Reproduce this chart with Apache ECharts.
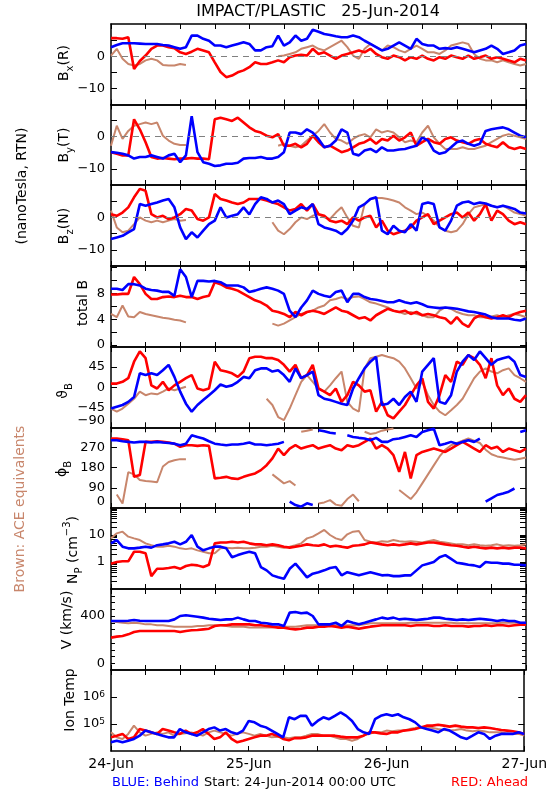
<!DOCTYPE html>
<html><head><meta charset="utf-8">
<script src="https://cdn.jsdelivr.net/npm/echarts@6/dist/echarts.min.js"></script>
<style>html,body{margin:0;padding:0;background:#fff}#c{width:550px;height:800px}</style>
</head><body><div id="c"></div><script>
// hours since 24-Jun-2014 00:00 UTC
const hours = [0,1,2,3,4,5,6,7,8,9,10,11,12,13,14,15,16,17,18,19,20,21,22,23,24,25,26,27,28,29,30,31,32,33,34,35,36,37,38,39,40,41,42,43,44,45,46,47,48,49,50,51,52,53,54,55,56,57,58,59,60,61,62,63,64,65,66,67,68,69,70,71,72];
const dayLabels = ['24-Jun','25-Jun','26-Jun','27-Jun'];
const dayHours = [0,24,48,72];
const _ = null;

const bxBlue = [2.8,3.5,4,4,4,3.9,3.8,3.8,3.8,3.5,3.3,2.8,2.3,2.8,6.4,6.4,5.4,4.8,3.3,3.3,2.8,3.3,3.8,4.3,3.8,1.8,1.8,2.8,3.1,6.4,3.3,4.3,6.4,4.8,5.4,8.2,7.6,6.9,6.6,6.2,5.9,5.9,6.4,5.9,4.8,3.8,2.8,1.8,2.3,3.3,4.3,3.3,2.3,5.4,3.8,3.3,3.3,2.3,2.5,2.3,2.8,2.3,1.8,1.2,1.8,2.3,3.3,2.3,0.7,1.2,1.8,3.3,3.8];
const bxRed = [5.6,5.6,5.4,5.9,-4,-1.5,0.2,2.3,3.3,3.3,2.8,2.5,1.2,0.7,1.4,2.3,1.8,1.2,-1.9,-4.9,-6.5,-6,-5,-4.4,-3.4,-1.9,-2.4,-2.4,-1.9,-1.3,-1.9,-0.3,0.2,0.4,0.2,2.3,0.7,1.2,0.2,-0.8,0.2,0.7,1.2,1.8,1.2,2.3,0.7,-0.3,-0.8,0.2,-0.3,-1.3,-0.3,-0.8,0.2,-0.8,-1.3,-0.3,-0.8,0.2,-0.3,-0.8,0.2,-0.8,-0.3,0.2,-0.8,-0.3,-0.8,-1.3,-1.9,-0.8,-1.3];
const bxBrown = [0.2,2.3,-0.8,-2.4,-2.9,-2.4,-1.3,-0.8,-1.3,-2.7,-2.9,-2.9,-2.4,-2.7,_,_,_,_,_,_,_,_,_,_,_,_,_,_,_,0,0.2,0.7,1.2,2.3,2.8,3.3,2.3,1.8,2.8,3.8,4.8,2.8,0.2,-0.8,2.3,3.8,2.8,1.8,3.3,2.8,1.8,1.2,2.3,3.3,2.3,1.2,1.2,0.7,1.8,3.3,3.8,4.3,3.8,0.7,-0.8,-1.3,-1.3,-1.9,-1.3,-1.9,-2.4,-2.9,-2.4];

const byBlue = [-4.8,-5,-5.3,-5.8,-6.8,-6.3,-6.3,-5.8,-6.3,-6.8,-5.8,-5.3,-7.9,-5.8,6.4,-4.8,-7.9,-8.4,-9.1,-8.9,-8.4,-8.4,-8.1,-6.8,-6.6,-6.6,-6.3,-6.8,-6.8,-6.3,-4.8,1.3,1.3,0.8,2.3,1.3,-0.7,-3.3,-2.8,-1.2,2.3,1.3,-5.3,-5.8,-4.3,-3.8,-4.8,-3.3,-4.3,-4.3,-4,-3.8,-3.3,-2.8,-0.2,-1.2,-4.3,-5.3,-4.8,-3.3,-1.7,-1.2,-2.2,-2.8,-2.2,1.8,2.3,2.6,2.9,2.3,1.3,0.3,-0.2];
const byRed = [-4.8,-5.3,-5.8,-5.8,5.4,2.3,-1.7,-6.3,-6.8,-6.6,-6.8,-7,-6.8,-6.8,-6.6,-6.8,-6.8,-7,5.4,5.9,5.4,4.9,5.9,4.4,2.9,1.8,1.3,0.3,-0.2,0.8,-2.8,-2.8,-2.2,-3.3,-2.2,0.3,-1.7,-3.3,-2.8,-3.8,-4.8,-4.3,-3.3,-2.2,-1.7,-0.7,-2.2,-0.7,-1.2,0.3,-1.2,-0.2,1.3,-2.8,-1.7,-0.7,-1.7,-2.2,-0.7,-0.2,-1.2,-1.7,-2.2,-1.2,-0.7,-2.2,-2.8,-3.3,-1.7,-3.3,-3.8,-3.3,-3.8];
const byBrown = [-2.8,3.4,-0.7,1.8,3.4,3.9,4.4,3.9,4.4,0.3,-1.2,-2.2,-2.6,-2.6,_,_,_,_,_,_,_,_,_,_,_,_,_,_,_,-2.8,-2.2,-2.8,-3.3,-2.8,-1.2,0.3,1.8,3.9,1.3,-0.7,-1.2,-2.2,-0.7,0.3,0.8,-0.2,2.3,1.3,1.8,1.3,-0.2,-1.7,-1.2,-1.7,1.3,3.4,-0.2,-2.2,-3.8,-3.8,-3.8,-3.3,-3.8,-3.8,-3.3,-2.8,-1.7,-0.7,0.3,0.8,0.3,-0.2,-0.7];

const bzBlue = [-6.7,-6.2,-5.7,-4.6,-3.6,4.1,3.6,4.1,4.6,5.2,5.7,3.1,-3.1,-6.7,-4.6,-6.2,-4.1,-2.1,-1,3.1,0,0.5,1,3.1,0.9,4.1,6.2,5.7,4.6,5.2,4.1,1,2.1,3.1,2.6,4.1,-2.1,-3.1,-3.6,-4.1,-5.2,-3.6,-1,3.1,4.1,5.7,6.2,-4.1,-5.2,-2.6,-4.1,-4.6,-2.1,-4.1,4.1,4.6,4.1,-3.1,-4.1,-1,3.6,4.6,4.9,4.1,4.6,4.3,3.6,3.1,3.6,3.1,2.6,1.5,1.2];
const bzRed = [1,0.5,1.5,3.1,6.2,8.8,8.2,1,0,0.5,-0.5,0,1,2.6,2.1,-0.5,-1,0,7.2,5.7,5.2,4.6,4.1,4.6,5.7,5.7,5.7,5.2,4.6,4.1,3.1,2.1,2.6,4.1,2.1,4.1,1,0.5,-1,-1.5,-1,-2.1,0,-1,0,0.5,-3.1,-1,-4.1,-5.2,-4.6,-4.1,-3.1,-1,0,1,-2.1,-1,0,1,1.5,0,1.5,-1,1,4.1,-1,2.1,1,-1,-2.1,-1.5,-2.1];
const bzBrown = [2.1,-3.1,-4.6,-4.1,-2.1,0,-1,-1.5,-1,-1.5,-1,-0.5,-1,-0.8,_,_,_,_,_,_,_,_,_,_,_,_,_,_,-1.5,-4.1,-5.2,-3.6,-1.5,0,-0.5,0.5,1,0,-0.5,1.5,3.1,0,-2.6,-3.1,4.1,5.7,6,6,5.7,5.2,4.6,3.1,2.1,1,1.5,0.5,-1,-3.1,-4.1,-4.6,-4.1,-2.1,1,3.1,3.6,4.1,3.6,3.1,3.6,2.6,1.5,1,0.5];

const btBlue = [8.7,8.7,8.5,9.4,9.4,9.2,8.7,8.5,8.4,8.2,8.2,7.6,11.7,10.5,7.4,9.9,9.9,9.8,9.9,9.7,9.2,9.2,9.2,8.9,8.2,8.4,8.7,8.9,8.7,8.4,7.9,5.3,4.3,5.8,6.9,8.4,7.9,7.6,7.4,8.2,8.4,6.6,7.9,7.9,7.4,7.1,7,6.8,6.6,6.6,6.9,6.6,6.4,6.6,6.3,5.9,5.8,5.7,5.8,5.7,5.6,5.4,5.2,5.1,4.9,4.7,4.3,4.1,4.1,4.1,3.9,3.8,4.1];
const btRed = [7.8,7.8,7.9,7.9,10.5,9.4,7.9,7.1,7.1,7.4,7.5,7.4,7.6,7.4,7.4,7.1,7.4,7.6,9.7,9.4,8.9,8.7,8.4,7.9,7.4,6.9,6.6,6.1,5.3,5.1,4.8,4.3,5.1,4.6,5.1,5.3,5.1,4.8,5.3,5.8,5.3,5.1,4.6,4.1,4.3,3.8,4.6,5.1,5.6,5.3,5.1,5.3,4.8,5.1,4.6,4.8,4.6,4.3,4.1,3.3,4.3,3.3,2.8,4.1,4.6,4.3,4.1,4.3,4.6,4.3,4.8,5.1,5.3];
const btBrown = [4.8,4.3,6.1,4.4,4.3,5.1,4.8,4.6,4.4,4.2,4.1,3.9,3.8,3.5,_,_,_,_,_,_,_,_,_,_,_,_,_,_,3.3,3.0,3.3,3.8,4.3,4.8,5.1,5.3,5.8,6.1,6.9,7.1,7.4,7.1,7.4,7.5,7.1,6.6,6.4,6.1,5.8,5.3,5.1,4.8,5.1,4.8,4.6,4.3,4.3,5.3,5.8,5.6,5.1,4.8,4.6,4.6,4.3,4.3,4.4,4.6,4.3,4.6,4.8,4.6,4.3];

const thBlue = [-48,-44,-40,-33,-22,31,27,31,27,38,50,23,-10,-37,-55,-40,-29,-18,-7,6,1,4,12,23,20,38,42,42,35,38,27,12,42,20,27,35,-18,-26,-29,-33,-37,-40,-3,20,42,57,68,-40,-37,-26,-40,-22,-10,-33,35,50,65,-33,-37,-18,35,57,72,61,80,65,50,61,65,68,57,27,23];
const thRed = [8,8,12,20,57,80,65,4,-3,12,-7,4,12,20,27,-3,-7,-3,57,38,35,31,23,35,65,68,68,65,65,61,50,35,50,20,27,50,-3,-10,-18,-3,-33,-18,12,4,-10,-7,-55,-33,-63,-70,-55,-40,-18,4,20,-33,-48,-18,27,12,57,50,72,65,50,20,65,4,-18,-3,-26,-33,-18];
const thBrown = [-48,-55,-48,-37,-26,-10,-18,-14,-16,-10,-3,-7,-3,1,_,_,_,_,_,_,_,_,_,_,_,_,_,-26,-40,-67,-74,-48,-18,12,27,12,-3,-10,4,20,35,-33,-48,-55,42,65,68,72,68,65,57,42,20,-3,12,-18,-40,-55,-63,-52,-40,-26,-3,20,35,42,35,31,38,42,27,20,12];

const phBlue = [302,302,298,295,292,295,295,292,295,292,290,287,280,287,324,317,310,298,287,283,280,283,283,287,292,283,283,280,283,287,295,28,13,6,21,13,347,342,336,332,28,324,317,313,310,302,313,295,295,307,310,317,324,317,339,347,354,280,287,295,287,295,302,295,310,28,43,58,65,73,87,339,347];
const phRed = [310,310,307,302,139,147,295,295,298,295,292,287,273,280,280,277,280,277,132,135,139,132,129,139,147,154,169,191,221,265,236,265,280,265,273,280,265,273,280,265,258,280,273,280,295,310,265,280,265,236,161,250,132,236,250,258,265,258,250,265,280,295,280,265,250,280,265,273,250,265,258,250,265];
const phBrown = [290,60,20,160,150,125,120,118,115,185,205,213,218,218,_,_,_,_,_,_,_,_,_,_,_,_,_,_,150,130,110,120,100,340,345,350,20,25,35,15,10,40,60,30,340,330,335,345,350,355,80,60,40,70,110,150,190,230,260,280,290,300,310,300,290,260,240,230,225,220,215,220,225];

const npBlue = [4.9,6.5,3.7,3.2,3.2,3.4,3.7,3.4,4.2,4.5,4.9,5.6,4.5,5.6,10,3.7,2.7,3.2,3.7,3.7,3.2,1.5,1.8,2.1,2.4,2.1,0.65,0.49,0.32,0.27,0.24,0.56,0.87,0.49,0.27,0.37,0.42,0.49,0.6,0.65,0.32,0.42,0.37,0.32,0.37,0.42,0.37,0.32,0.33,0.3,0.3,0.32,0.32,0.49,0.75,0.87,1,1.5,1.8,1.3,0.94,0.87,0.79,0.75,0.65,1,0.94,0.94,0.87,0.87,0.79,0.79,0.75];
const npRed = [0.87,1,1.06,1.06,2.4,2.4,2.1,0.3,0.56,0.56,0.6,0.65,0.56,0.71,0.79,0.75,0.65,0.79,4.9,5.3,5.3,5.6,5.3,5.6,4.9,4.5,4.5,4.2,4.5,4.2,3.7,3.4,3.7,4,4.5,4.2,4,4.5,3.7,4,3.7,3.4,4,4.2,4.5,5.3,4.9,4.5,4.2,4.5,4.2,4.5,4.9,4.5,4.9,5.3,5.3,4.9,4.5,4.2,4,3.7,3.4,3.7,3.4,3.2,3.4,3.2,3.4,3.2,3.4,3.4,3.2];
const npBrown = [7.5,11.5,13.3,8.7,7.5,6.5,4.9,4.2,3.7,3.7,4,3.7,3.2,3,3.2,2.7,2.4,2.1,2.1,3.2,3.4,3.2,3.4,3.2,3.2,3.4,3.7,3.7,4,3.7,3.4,3.7,4.2,4.9,7.5,8.7,11.5,15.4,10,7.5,6.5,10.6,13.3,14,6.5,5.6,5.3,5.9,5.6,6.5,5.9,5.6,5.9,5.6,5.3,5.9,6.5,5.6,5.3,4.9,4.5,4.5,4.2,4.5,4.2,4,4.2,4.5,4,4.2,4,4.2,4.5];

const vBlue = [363,363,363,365,370,365,363,363,363,363,363,375,400,405,400,395,388,380,375,370,375,375,388,375,363,363,350,346,338,338,326,425,430,420,425,400,338,338,338,350,326,363,350,338,350,363,375,388,380,388,375,380,375,370,375,380,388,388,380,375,370,375,370,375,380,375,370,363,370,363,363,350,350];
const vRed = [240,247,252,264,281,289,289,289,289,289,289,289,281,289,294,296,301,306,326,331,331,338,338,338,338,331,331,326,321,314,314,306,301,306,314,314,321,321,326,321,314,321,314,306,314,321,326,331,331,331,331,331,326,331,331,331,326,326,331,326,326,326,321,326,326,331,326,331,331,326,331,336,336];
const vBrown = [363,356,350,346,350,346,338,338,331,331,326,321,321,321,321,326,326,331,331,331,326,321,321,321,314,314,314,314,314,321,321,321,321,326,331,331,331,331,331,331,331,331,331,331,338,346,346,346,346,346,346,346,350,350,350,350,350,350,350,350,346,346,346,346,346,346,346,346,350,350,350,350,350];

const tBlue = [2.1e4,2.4e4,2.1e4,2.4e4,2.8e4,3.7e4,5.7e4,4.9e4,4.3e4,3.7e4,3.2e4,3.2e4,6.5e4,4.9e4,4.3e4,3.7e4,4.9e4,6.5e4,7.5e4,5.7e4,6.5e4,4.9e4,4.3e4,5.7e4,1.3e5,1.15e5,8.7e4,7.5e4,5.7e4,4.3e4,3.2e4,1.77e5,1.5e5,2e5,2e5,8.7e4,1.3e5,1.77e5,1.5e5,2e5,2.7e5,2e5,1.3e5,6.5e4,4.9e4,4.3e4,1.5e5,2e5,2.3e5,2e5,2.3e5,1.77e5,1.5e5,1.15e5,7.5e4,6.5e4,5.7e4,4.9e4,6.5e4,5.7e4,4.3e4,3.2e4,2.8e4,3.7e4,4.9e4,4.3e4,2.8e4,3.7e4,4.3e4,4.3e4,4.3e4,4.9e4,4.3e4];
const tRed = [3.2e4,3.7e4,4.3e4,2.8e4,3.2e4,6.5e4,5.7e4,4.9e4,4.3e4,6.5e4,5.7e4,4.9e4,4.3e4,5.7e4,4.3e4,4.9e4,6.5e4,4.3e4,2.8e4,3.2e4,4.9e4,2.8e4,2.1e4,2.4e4,2.8e4,3.2e4,3.7e4,3.7e4,4.3e4,3.7e4,2.8e4,2.5e4,3e4,3e4,3.2e4,3.7e4,3.7e4,3.7e4,3.7e4,3.7e4,3.4e4,3.2e4,3.2e4,3.2e4,3.7e4,4.9e4,4.9e4,4.5e4,4.3e4,4.9e4,4.9e4,5.7e4,6e4,6.5e4,7.5e4,8.7e4,8.7e4,9.4e4,8.7e4,8e4,8.7e4,8e4,7.5e4,7.5e4,7.1e4,7.5e4,7.1e4,6.5e4,6e4,5.7e4,5.4e4,4.9e4,4.3e4];
const tBrown = [4.9e4,3.2e4,2.8e4,4.3e4,8.7e4,4.9e4,3.7e4,4.3e4,4.9e4,4.3e4,4.9e4,3.7e4,4.3e4,4.5e4,4.9e4,4.3e4,3.7e4,4.9e4,5.7e4,4.9e4,4.3e4,3.7e4,4.3e4,4.9e4,4.3e4,3.7e4,4.3e4,3.7e4,3.2e4,3.4e4,3.2e4,3e4,3.2e4,3.2e4,3.7e4,4.3e4,4.3e4,3.7e4,3.7e4,3.2e4,2.8e4,2.8e4,2.4e4,2.8e4,3.7e4,4.3e4,4.9e4,4.9e4,5.7e4,5.4e4,5.7e4,5.7e4,6.5e4,7.1e4,8e4,7.5e4,7.1e4,6.5e4,6e4,5.7e4,6e4,6.5e4,5.7e4,5.4e4,5.7e4,5.4e4,4.9e4,4.9e4,4.9e4,4.5e4,4.3e4,4.3e4,3.7e4];

// tick positions / labels per panel
const bTicks = [-10,-5,0,5], bLabels = [-10,0];
const totTicks = [0,2,4,6,8,10,12], totLabels = [0,4,8];
const thTicks = [-45,0,45], thLabels = [-90,-45,0,45];
const phTicks = [90,180,270], phLabels = [0,90,180,270];
const npTicks = [0.2,0.3,0.4,0.5,0.6,0.7,0.8,0.9,1,2,3,4,5,6,7,8,9,10,20,30,40,50,60,70,80,90], npLabels = [1,10];
const vTicks = [50,100,150,200,250,300,350,400,450,500,550], vLabels = [0,400];
const tTicks = [1e5,1e6], tLabels = [1e5,1e6];

const FONT = 'DejaVu Sans';
const BLUE = '#0000ff', RED = '#ff0000', BROWN = '#c8866c';
const tops = [24,104.5,185,266,347,427.3,508,589,670,751];

const panels = [
  {b:bxBlue,r:bxRed,w:bxBrown,type:'value',min:-15,max:10,ticks:bTicks,labels:bLabels,zero:true,name:'{b|B}{s|x}{b|(R)}',nx:64,ny:63},
  {b:byBlue,r:byRed,w:byBrown,type:'value',min:-15,max:10,ticks:bTicks,labels:bLabels,zero:true,name:'{b|B}{s|y}{b|(T)}',nx:64,ny:145},
  {b:bzBlue,r:bzRed,w:bzBrown,type:'value',min:-15,max:10,ticks:bTicks,labels:bLabels,zero:true,name:'{b|B}{s|z}{b|(N)}',nx:64,ny:226},
  {b:btBlue,r:btRed,w:btBrown,type:'value',min:-0.3,max:12.2,ticks:totTicks,labels:totLabels,name:'{b|total B}',nx:83,ny:303},
  {b:thBlue,r:thRed,w:thBrown,type:'value',min:-90,max:90,ticks:thTicks,labels:thLabels,minBottom:true,name:'{b|ϑ}{s|B}',nx:63,ny:391},
  {b:phBlue,r:phRed,w:phBrown,type:'value',min:0,max:360,ticks:phTicks,labels:phLabels,minBottom:true,wrap:true,name:'{b|ϕ}{s|B}',nx:62,ny:469},
  {b:npBlue,r:npRed,w:npBrown,type:'log',min:0.1,max:100,ticks:npTicks,labels:npLabels,name:'{b|N}{s|P}{b| (cm}{u|−3}{b|)}',nx:73,ny:550},
  {b:vBlue,r:vRed,w:vBrown,type:'value',min:0,max:600,ticks:vTicks,labels:vLabels,minBottom:true,tickLen:4,name:'{b|V (km/s)}',nx:67,ny:620},
  {b:tBlue,r:tRed,w:tBrown,type:'log',min:1e4,max:1e7,ticks:tTicks,labels:tLabels,pow:true,name:'{b|Ion Temp}',nx:70,ny:700}
];

const RICH = {
  b:{fontSize:14,fontFamily:FONT,lineHeight:22,verticalAlign:'middle',color:'#000'},
  s:{fontSize:10,fontFamily:FONT,lineHeight:10,verticalAlign:'bottom',color:'#000'},
  u:{fontSize:10,fontFamily:FONT,lineHeight:10,verticalAlign:'top',color:'#000'}
};

// build [hour, value] pairs; for angles that wrap (0/360) break the line instead of crossing the panel
function pairs(arr, wrap) {
  const out = [];
  hours.forEach((h,k) => {
    const v = arr[k], pv = k>0 ? arr[k-1] : null;
    if (wrap && v!=null && pv!=null && Math.abs(v-pv) > 200) out.push([h-0.5, null]);
    out.push([h, v]);
  });
  return out;
}

const grid = [], xAxis = [], yAxis = [], series = [];
const axLine = {show:true,onZero:false,lineStyle:{color:'#000',width:1.5}};
const tickStyle = {color:'#000',width:1};

panels.forEach((p,i) => {
  grid.push({left:111,width:415,top:tops[i],height:tops[i+1]-tops[i]});
  const last = i === panels.length-1;
  xAxis.push({gridIndex:i,type:'value',min:0,max:72,interval:6,position:'bottom',
    axisLine:axLine,axisTick:{inside:true,length:5,lineStyle:tickStyle},splitLine:{show:false},
    axisLabel: last ? {show:true,customValues:dayHours,fontFamily:FONT,fontSize:14,color:'#000',margin:6,
      formatter:v=>dayLabels[dayHours.indexOf(v)]} : {show:false}});
  xAxis.push({gridIndex:i,type:'value',min:0,max:72,interval:6,position:'top',
    axisLine:axLine,axisTick:{inside:true,length:5,lineStyle:tickStyle},splitLine:{show:false},axisLabel:{show:false}});
  const fmt = p.pow ? (v => '10{u|' + Math.round(Math.log10(v)) + '}') : (v => String(v).replace('-','−'));
  const common = {gridIndex:i,type:p.type,min:p.min,max:p.max,axisLine:axLine,splitLine:{show:false},
    minorTick:{show:false},minorSplitLine:{show:false},
    axisTick:{inside:true,length:p.tickLen||6,customValues:p.ticks,lineStyle:tickStyle}};
  if (p.type==='log') common.logBase = 10;
  yAxis.push(Object.assign({},common,{position:'left',
    axisLabel:{show:true,customValues:p.labels,formatter:fmt,fontFamily:FONT,fontSize:13,color:'#000',margin:6,
      verticalAlignMinLabel:p.minBottom?'bottom':null,
      rich:{u:{fontSize:9,fontFamily:FONT,verticalAlign:'top',lineHeight:8,color:'#000'}}}}));
  yAxis.push(Object.assign({},common,{position:'right',axisLabel:{show:false}}));
  const mk = (arr,color,w,z) => ({type:'line',xAxisIndex:2*i,yAxisIndex:2*i,
    data:pairs(arr,p.wrap),showSymbol:false,symbol:'none',connectNulls:false,
    lineStyle:{color,width:w},itemStyle:{color},z,animation:false,clip:true});
  const sb = mk(p.w,BROWN,2,2);
  if (p.zero) sb.markLine = {silent:true,symbol:'none',animation:false,label:{show:false},
    lineStyle:{color:'#808080',type:[6,5],width:1},data:[{yAxis:0}]};
  series.push(sb, mk(p.r,RED,2.6,3), mk(p.b,BLUE,2.6,4));
});

const graphic = [
  {type:'text',x:318,y:12,style:{text:'IMPACT/PLASTIC   25-Jun-2014',font:'16px "DejaVu Sans"',fill:'#000',align:'center',verticalAlign:'middle'}},
  {type:'text',x:22,y:186,rotation:Math.PI/2,style:{text:'(nanoTesla, RTN)',font:'14px "DejaVu Sans"',fill:'#000',align:'center',verticalAlign:'middle'}},
  {type:'text',x:20,y:509,rotation:Math.PI/2,style:{text:'Brown: ACE equivalents',font:'14px "DejaVu Sans"',fill:BROWN,align:'center',verticalAlign:'middle'}},
  {type:'text',x:112,y:783,style:{text:'BLUE: Behind',font:'13px "DejaVu Sans"',fill:BLUE,align:'left',verticalAlign:'middle'}},
  {type:'text',x:204,y:783,style:{text:'Start: 24-Jun-2014 00:00 UTC',font:'13px "DejaVu Sans"',fill:'#000',align:'left',verticalAlign:'middle'}},
  {type:'text',x:451,y:783,style:{text:'RED: Ahead',font:'13px "DejaVu Sans"',fill:RED,align:'left',verticalAlign:'middle'}}
];
panels.forEach(p => graphic.push({type:'text',x:p.nx,y:p.ny,rotation:Math.PI/2,
  style:{text:p.name,rich:RICH,fill:'#000',align:'center',verticalAlign:'middle',font:'14px "DejaVu Sans"'}}));

const chart = echarts.init(document.getElementById('c'),null,{renderer:'canvas'});
chart.setOption({animation:false,backgroundColor:'#fff',grid,xAxis,yAxis,series,graphic});
</script></body></html>
